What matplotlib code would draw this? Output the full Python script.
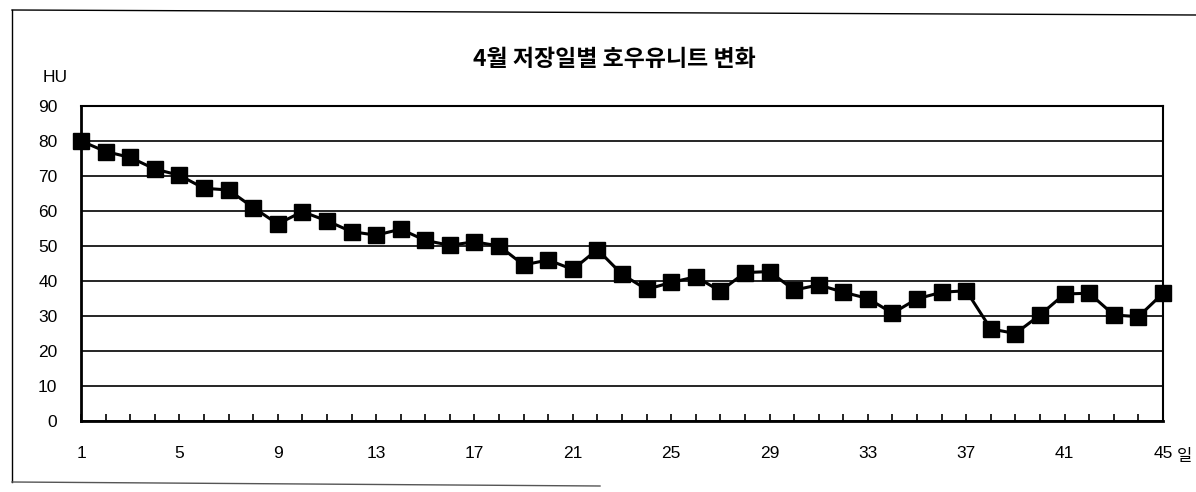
import matplotlib
matplotlib.use("Agg")
import matplotlib.pyplot as plt
from matplotlib.lines import Line2D
from matplotlib.ticker import MultipleLocator

days = list(range(1, 46))
hu = [80, 77, 75.3, 72, 70.2, 66.5, 66, 61, 56.3, 59.8,
      57.2, 54.1, 53.1, 54.8, 51.6, 50.2, 51.2, 50, 44.6, 46,
      43.3, 49, 41.9, 37.6, 39.6, 41.2, 37.1, 42.4, 42.7, 37.4,
      38.9, 36.8, 35, 30.8, 34.9, 36.8, 37.2, 26.3, 25, 30.3,
      36.3, 36.5, 30.3, 29.8, 36.5]
x_labels = [1, 5, 9, 13, 17, 21, 25, 29, 33, 37, 41, 45]
y_ticks = list(range(0, 100, 10))

title = "4월 저장일별 호우유니트 변화"
num_font = ["Liberation Sans Narrow", "Liberation Sans", "DejaVu Sans"]
kr_font = ["Noto Sans CJK KR", "DejaVu Sans"]

fig = plt.figure(figsize=(11.96, 4.92), dpi=100)
ax = fig.add_axes([81 / 1196, 1 - 421 / 492, (1163 - 81) / 1196, (421 - 106) / 492])

ax.plot(days, hu, color="black", linewidth=2.2, marker="s", markersize=12,
        markerfacecolor="black", markeredgecolor="black", clip_on=False, zorder=5)

ax.set_xlim(1, 45)
ax.set_ylim(0, 90)
ax.set_yticks(y_ticks)
ax.set_xticks(x_labels)
ax.xaxis.set_minor_locator(MultipleLocator(1))
ax.grid(axis="y", color="black", linewidth=1.2)
ax.set_axisbelow(True)

ax.tick_params(axis="x", which="both", direction="in", length=5, width=1.2,
               pad=18, labelsize=12.5)
ax.tick_params(axis="y", length=0, pad=17, labelsize=12.5)
for lab in ax.get_xticklabels() + ax.get_yticklabels():
    lab.set_family(num_font)

for side in ["left", "bottom"]:
    ax.spines[side].set_linewidth(2)
for side in ["top", "right"]:
    ax.spines[side].set_linewidth(1.5)

fig.text(614 / 1196, 1 - 60 / 492, title, ha="center", va="center",
         fontsize=16.5, fontweight="bold", family=kr_font)
fig.text(43 / 1196, 1 - 78 / 492, "HU", ha="left", va="center",
         fontsize=12.5, family=num_font)
fig.text(1177 / 1196, 1 - 456 / 492, "일", ha="left", va="center",
         fontsize=12, family=kr_font)

# outer frame of the scanned page
fig.add_artist(Line2D([12 / 1196, 12 / 1196], [1 - 10 / 492, 1 - 482 / 492],
                      color="black", linewidth=1, transform=fig.transFigure))
fig.add_artist(Line2D([12 / 1196, 1.0], [1 - 10 / 492, 1 - 15 / 492],
                      color="black", linewidth=1, transform=fig.transFigure))
fig.add_artist(Line2D([12 / 1196, 600 / 1196], [1 - 482 / 492, 1 - 486 / 492],
                      color="#555555", linewidth=1, transform=fig.transFigure))

fig.savefig("out.png", dpi=100)
